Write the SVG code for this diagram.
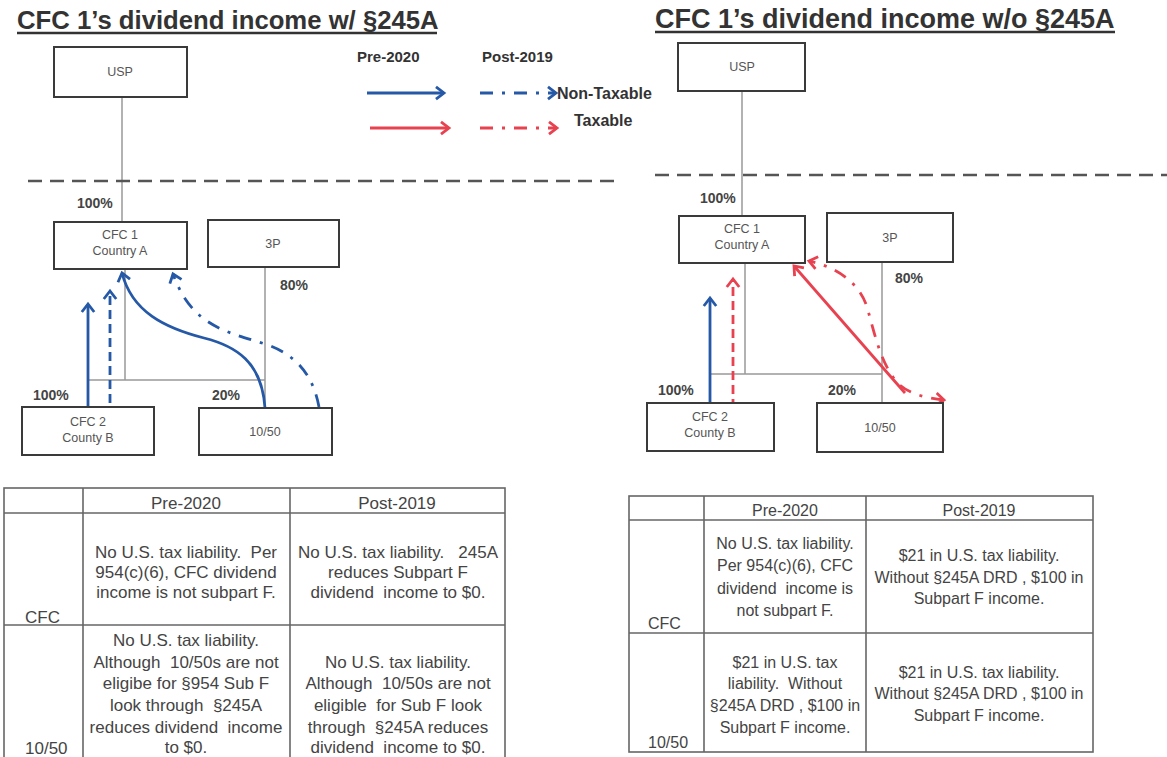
<svg xmlns="http://www.w3.org/2000/svg" width="1167" height="757" viewBox="0 0 1167 757">
<style>
.title{font-family:"Liberation Sans",Arial,sans-serif;font-weight:bold;fill:#333}
.box{fill:#fff;stroke:#3a3a3a;stroke-width:2}
.lbl{font-family:"Liberation Sans",Arial,sans-serif;font-size:12.5px;fill:#555;text-anchor:middle}
.pct{font-family:"Liberation Sans",Arial,sans-serif;font-size:14px;font-weight:bold;fill:#444}
.own{stroke:#999;stroke-width:1.5;fill:none}
.sep{stroke:#555;stroke-width:2.5;stroke-dasharray:14 8;fill:none}
.blue{stroke:#2559a7;stroke-width:2.8;fill:none}
.red{stroke:#e8414f;stroke-width:2.8;fill:none}
.dash{stroke-dasharray:9 5}
.dd{stroke-dasharray:13 9 3 9}
.leg{font-family:"Liberation Sans",Arial,sans-serif;font-weight:bold;fill:#333}
.tb{stroke:#666;stroke-width:1.6;fill:none}
.tt{font-family:"Liberation Sans",Arial,sans-serif;fill:#444;text-anchor:middle;white-space:pre}
.tl{font-family:"Liberation Sans",Arial,sans-serif;fill:#444}
</style>
<defs>
<marker id="ab" markerUnits="userSpaceOnUse" markerWidth="16" markerHeight="16" refX="9" refY="7" orient="auto" viewBox="0 0 16 14">
<path d="M1,0.8 L9,7 L1,13.2" fill="none" stroke="#2559a7" stroke-width="2.8"/>
</marker>
<marker id="ar" markerUnits="userSpaceOnUse" markerWidth="16" markerHeight="16" refX="9" refY="7" orient="auto" viewBox="0 0 16 14">
<path d="M1,0.8 L9,7 L1,13.2" fill="none" stroke="#e8414f" stroke-width="2.8"/>
</marker>
<marker id="arS" markerUnits="userSpaceOnUse" markerWidth="16" markerHeight="16" refX="9" refY="7" orient="auto-start-reverse" viewBox="0 0 16 14">
<path d="M1,0.8 L9,7 L1,13.2" fill="none" stroke="#e8414f" stroke-width="2.8"/>
</marker>
</defs>
<rect width="1167" height="757" fill="#fff"/>

<!-- Titles -->
<g id="title-left">
<text class="title" x="17" y="29" font-size="25.7">CFC 1’s dividend income w/ §245A</text>
<line x1="17" y1="33" x2="437" y2="33" stroke="#333" stroke-width="2.5"/>
</g>
<g id="title-right">
<text class="title" x="655" y="28" font-size="27">CFC 1’s dividend income w/o §245A</text>
<line x1="655" y1="32" x2="1115" y2="32" stroke="#333" stroke-width="2.5"/>
</g>

<!-- Legend -->
<g id="legend">
<text class="leg" x="357" y="62" font-size="15">Pre-2020</text>
<text class="leg" x="482" y="62" font-size="15">Post-2019</text>
<line class="blue" x1="367" y1="93" x2="444" y2="93" marker-end="url(#ab)"/>
<line class="blue dd" x1="480" y1="93" x2="556" y2="93" marker-end="url(#ab)"/>
<text class="leg" x="557" y="99" font-size="16">Non-Taxable</text>
<line class="red" x1="370" y1="128" x2="449" y2="128" marker-end="url(#ar)"/>
<line class="red dd" x1="480" y1="128" x2="557" y2="128" marker-end="url(#ar)"/>
<text class="leg" x="574" y="126" font-size="16">Taxable</text>
</g>

<!-- Left diagram connectors -->
<g id="connectors-left">
<line class="own" x1="122" y1="97" x2="122" y2="222"/>
<line class="sep" x1="28" y1="181" x2="620" y2="181"/>
<line class="own" x1="265" y1="267" x2="265" y2="408"/>
<line class="own" x1="88" y1="380" x2="265" y2="380"/>
<line class="own" x1="125" y1="269" x2="125" y2="380"/>
<line class="blue" x1="88" y1="407" x2="88" y2="304" marker-end="url(#ab)"/>
<line class="blue dash" x1="110" y1="403" x2="110" y2="291" marker-end="url(#ab)"/>
<path class="blue" d="M265,408 C262,362 236,346 204,338 C165,328 132,312 122,273" marker-end="url(#ab)"/>
<path class="blue dd" d="M319,407 C313,374 295,354 265,344 C228,332 192,327 173,274" marker-end="url(#ab)"/>
</g>

<!-- Left diagram nodes -->
<g id="L-USP"><rect class="box" x="54" y="47" width="133" height="50"/><text class="lbl" x="120" y="76">USP</text></g>
<g id="L-CFC1"><rect class="box" x="54" y="222" width="133" height="47"/><text class="lbl" x="120" y="239">CFC 1</text><text class="lbl" x="120" y="255">Country A</text></g>
<g id="L-3P"><rect class="box" x="208" y="220" width="131" height="47"/><text class="lbl" x="273" y="248">3P</text></g>
<g id="L-CFC2"><rect class="box" x="22" y="407" width="132" height="48"/><text class="lbl" x="88" y="426">CFC 2</text><text class="lbl" x="88" y="442">County B</text></g>
<g id="L-1050"><rect class="box" x="199" y="408" width="133" height="47"/><text class="lbl" x="265" y="436">10/50</text></g>
<g id="L-pct">
<text class="pct" x="77" y="208">100%</text>
<text class="pct" x="280" y="290">80%</text>
<text class="pct" x="33" y="400">100%</text>
<text class="pct" x="212" y="400">20%</text>
</g>

<!-- Right diagram connectors -->
<g id="connectors-right">
<line class="own" x1="742" y1="91" x2="742" y2="216"/>
<line class="sep" x1="655" y1="175" x2="1167" y2="175"/>
<line class="own" x1="882" y1="262" x2="882" y2="403"/>
<line class="own" x1="710" y1="374" x2="882" y2="374"/>
<line class="own" x1="745" y1="263" x2="745" y2="374"/>
<line class="blue" x1="710" y1="403" x2="710" y2="298" marker-end="url(#ab)"/>
<line class="red dash" x1="733" y1="408" x2="733" y2="279" marker-end="url(#ar)"/>
<line class="red" x1="905" y1="393" x2="794" y2="266" marker-end="url(#ar)"/>
<path class="red dd" d="M944,400 C925,398 905,393 895,380 C880,360 875,335 867,307 C860,285 840,268 809,261" marker-end="url(#ar)" marker-start="url(#arS)"/>
</g>

<!-- Right diagram nodes -->
<g id="R-USP"><rect class="box" x="678" y="43" width="127" height="48"/><text class="lbl" x="742" y="71">USP</text></g>
<g id="R-CFC1"><rect class="box" x="679" y="216" width="126" height="47"/><text class="lbl" x="742" y="233">CFC 1</text><text class="lbl" x="742" y="249">Country A</text></g>
<g id="R-3P"><rect class="box" x="827" y="213" width="126" height="49"/><text class="lbl" x="890" y="242">3P</text></g>
<g id="R-CFC2"><rect class="box" x="647" y="403" width="127" height="48"/><text class="lbl" x="710" y="421">CFC 2</text><text class="lbl" x="710" y="437">County B</text></g>
<g id="R-1050"><rect class="box" x="817" y="403" width="126" height="49"/><text class="lbl" x="880" y="432">10/50</text></g>
<g id="R-pct">
<text class="pct" x="700" y="203">100%</text>
<text class="pct" x="895" y="283">80%</text>
<text class="pct" x="658" y="395">100%</text>
<text class="pct" x="828" y="395">20%</text>
</g>

<!-- Left table -->
<g id="table-left" font-size="17">
<rect class="tb" x="4" y="488" width="501" height="275"/>
<line class="tb" x1="4" y1="513" x2="505" y2="513"/>
<line class="tb" x1="4" y1="625" x2="505" y2="625"/>
<line class="tb" x1="83" y1="488" x2="83" y2="760"/>
<line class="tb" x1="290" y1="488" x2="290" y2="760"/>
<text class="tt" x="186" y="509">Pre-2020</text>
<text class="tt" x="397" y="509">Post-2019</text>
<text class="tl" x="25" y="623">CFC</text>
<text class="tl" x="25" y="754">10/50</text>
<text class="tt" x="186" y="558">No U.S. tax liability.  Per</text>
<text class="tt" x="186" y="578">954(c)(6), CFC dividend</text>
<text class="tt" x="186" y="598">income is not subpart F.</text>
<text class="tt" x="398" y="558">No U.S. tax liability.   245A</text>
<text class="tt" x="398" y="578">reduces Subpart F</text>
<text class="tt" x="398" y="598">dividend  income to $0.</text>
<text class="tt" x="186" y="646">No U.S. tax liability.</text>
<text class="tt" x="186" y="668">Although  10/50s are not</text>
<text class="tt" x="186" y="689">eligibe for §954 Sub F</text>
<text class="tt" x="186" y="711">look through  §245A</text>
<text class="tt" x="186" y="733">reduces dividend  income</text>
<text class="tt" x="186" y="753">to $0.</text>
<text class="tt" x="398" y="668">No U.S. tax liability.</text>
<text class="tt" x="398" y="689">Although  10/50s are not</text>
<text class="tt" x="398" y="711">eligible  for Sub F look</text>
<text class="tt" x="398" y="733">through  §245A reduces</text>
<text class="tt" x="398" y="753">dividend  income to $0.</text>
</g>

<!-- Right table -->
<g id="table-right" font-size="16">
<rect class="tb" x="629" y="496" width="464" height="256"/>
<line class="tb" x1="629" y1="520" x2="1093" y2="520"/>
<line class="tb" x1="629" y1="633" x2="1093" y2="633"/>
<line class="tb" x1="704" y1="496" x2="704" y2="752"/>
<line class="tb" x1="866" y1="496" x2="866" y2="752"/>
<text class="tt" x="785" y="516">Pre-2020</text>
<text class="tt" x="979" y="516">Post-2019</text>
<text class="tl" x="648" y="629">CFC</text>
<text class="tl" x="648" y="748">10/50</text>
<text class="tt" x="785" y="549">No U.S. tax liability.</text>
<text class="tt" x="785" y="571">Per 954(c)(6), CFC</text>
<text class="tt" x="785" y="594">dividend  income is</text>
<text class="tt" x="785" y="616">not subpart F.</text>
<text class="tt" x="979" y="561">$21 in U.S. tax liability.</text>
<text class="tt" x="979" y="583">Without §245A DRD , $100 in</text>
<text class="tt" x="979" y="604">Subpart F income.</text>
<text class="tt" x="785" y="668">$21 in U.S. tax</text>
<text class="tt" x="785" y="689">liability.  Without</text>
<text class="tt" x="785" y="711">§245A DRD , $100 in</text>
<text class="tt" x="785" y="733">Subpart F income.</text>
<text class="tt" x="979" y="678">$21 in U.S. tax liability.</text>
<text class="tt" x="979" y="699">Without §245A DRD , $100 in</text>
<text class="tt" x="979" y="721">Subpart F income.</text>
</g>
</svg>
